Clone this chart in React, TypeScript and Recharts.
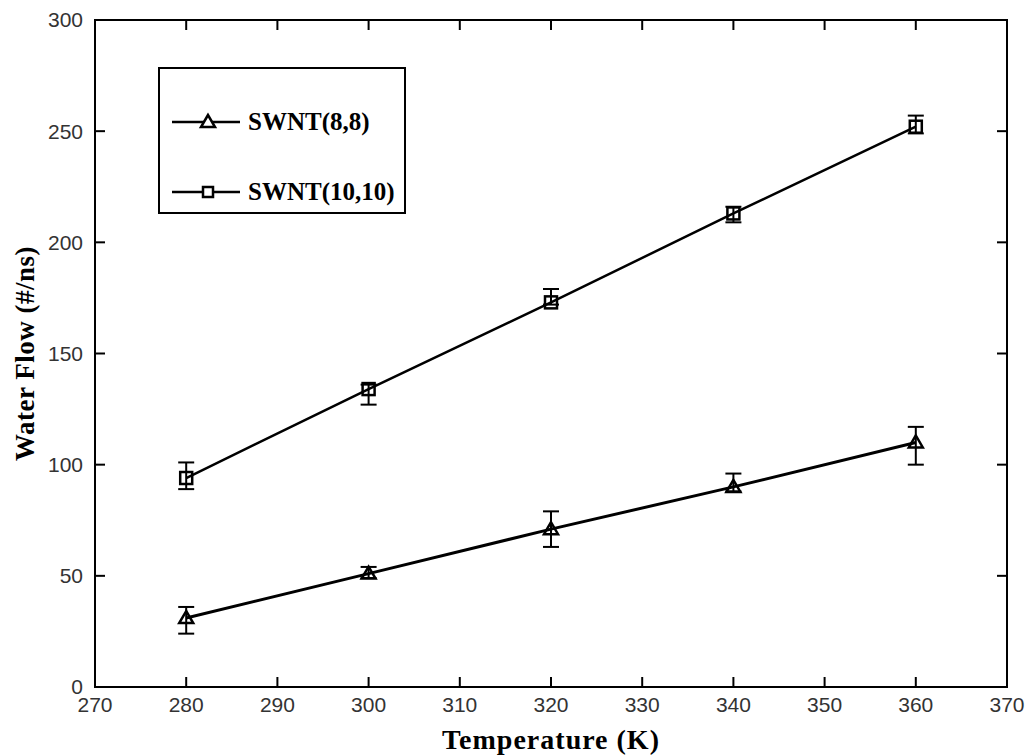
import { ErrorBar, Label, Legend, Line, LineChart, ReferenceArea, XAxis, YAxis } from "recharts";

const temperatures = [280, 300, 320, 340, 360];
const flowSwnt88 = [31, 51, 71, 90, 110];
const errSwnt88 = [[7, 5], [2, 3], [8, 8], [2, 6], [10, 7]];
const flowSwnt1010 = [94, 134, 173, 213, 252];
const errSwnt1010 = [[5, 7], [7, 2], [1, 6], [4, 3], [3, 5]];
const xTicks = [270, 280, 290, 300, 310, 320, 330, 340, 350, 360, 370];
const yTicks = [0, 50, 100, 150, 200, 250, 300];

const data = temperatures.map((t, i) => ({
  t,
  a: flowSwnt88[i],
  aErr: errSwnt88[i],
  b: flowSwnt1010[i],
  bErr: errSwnt1010[i]
}));

const serif = '"Liberation Serif", "DejaVu Serif", serif';
const sans = '"Liberation Sans Narrow", "Liberation Sans", Arial, sans-serif';
const tickStyle = { fill: "#333", fontSize: 21, fontFamily: sans };

function Triangle({ cx, cy }: { cx?: number; cy?: number }) {
  if (cx == null || cy == null) return null;
  return (
    <polygon
      points={`${cx},${cy - 7} ${cx - 7},${cy + 5} ${cx + 7},${cy + 5}`}
      fill="none"
      stroke="#000"
      strokeWidth={2.5}
    />
  );
}

function Square({ cx, cy }: { cx?: number; cy?: number }) {
  if (cx == null || cy == null) return null;
  return <rect x={cx - 6} y={cy - 6} width={12} height={12} fill="none" stroke="#000" strokeWidth={2.5} />;
}

function EmptyTick() {
  return <g />;
}

function LegendBox() {
  const row = (marker: "tri" | "sq", text: string) => (
    <div style={{ display: "flex", alignItems: "center", height: 40 }}>
      <svg width={80} height={24}>
        <line x1={12} x2={80} y1={12} y2={12} stroke="#000" strokeWidth={2.5} />
        {marker === "tri" ? (
          <polygon points="48,5 41,17 55,17" fill="white" stroke="#000" strokeWidth={2.5} />
        ) : (
          <rect x={43} y={7} width={10} height={10} fill="white" stroke="#000" strokeWidth={2.5} />
        )}
      </svg>
      <span style={{ fontFamily: serif, fontWeight: 700, fontSize: 25, marginLeft: 8, color: "#000" }}>{text}</span>
    </div>
  );
  return (
    <div
      style={{
        width: 244,
        height: 143,
        border: "2px solid #000",
        background: "#fff",
        display: "flex",
        flexDirection: "column",
        boxSizing: "content-box"
      }}
    >
      <div style={{ height: 33 }} />
      {row("tri", "SWNT(8,8)")}
      <div style={{ height: 30 }} />
      {row("sq", "SWNT(10,10)")}
    </div>
  );
}

export default function App() {
  return (
    <div style={{ position: "absolute", left: 0, top: 0, width: 1029, height: 755, background: "#fff" }}>
      <LineChart width={1029} height={755} data={data} margin={{ top: 19, right: 21, bottom: 0, left: 0 }}>
        <XAxis
          dataKey="t"
          type="number"
          domain={[270, 370]}
          ticks={xTicks}
          height={68}
          stroke="#000"
          strokeWidth={2}
          tickSize={-10}
          tickMargin={20}
          tick={tickStyle}
          interval={0}
        >
          <Label
            value="Temperature (K)"
            position="insideBottom"
            offset={6}
            style={{ fontFamily: serif, fontWeight: 700, fontSize: 28, letterSpacing: 1, fill: "#000" }}
          />
        </XAxis>
        <XAxis
          xAxisId="top"
          orientation="top"
          dataKey="t"
          type="number"
          domain={[270, 370]}
          ticks={xTicks}
          height={1}
          stroke="#000"
          strokeWidth={2}
          tickSize={-10}
          tick={EmptyTick}
          interval={0}
        />
        <YAxis
          type="number"
          domain={[0, 300]}
          ticks={yTicks}
          width={95}
          stroke="#000"
          strokeWidth={2}
          tickSize={-10}
          tickMargin={22}
          tick={tickStyle}
          interval={0}
        >
          <Label
            value="Water Flow (#/ns)"
            angle={-90}
            position="insideLeft"
            offset={24}
            style={{ fontFamily: serif, fontWeight: 700, fontSize: 27, letterSpacing: 0.5, fill: "#000", textAnchor: "middle" }}
          />
        </YAxis>
        <YAxis
          yAxisId="right"
          orientation="right"
          type="number"
          domain={[0, 300]}
          ticks={yTicks}
          width={1}
          stroke="#000"
          strokeWidth={2}
          tickSize={-10}
          tick={EmptyTick}
          interval={0}
        />
        <ReferenceArea x1={270} x2={370} y1={0} y2={300} fill="none" stroke="#000" strokeWidth={2} />
        <Legend
          layout="horizontal"
          verticalAlign="middle"
          align="center"
          wrapperStyle={{ left: 158, top: 67, width: 248, height: 147 }}
          content={() => <LegendBox />}
        />
        <Line
          xAxisId="top"
          yAxisId="right"
          dataKey="b"
          stroke="none"
          dot={false}
          activeDot={false}
          legendType="none"
          isAnimationActive={false}
        />
        <Line
          dataKey="a"
          stroke="#000"
          strokeWidth={3}
          dot={<Triangle />}
          activeDot={false}
          isAnimationActive={false}
        >
          <ErrorBar dataKey="aErr" direction="y" width={8} stroke="#000" strokeWidth={2} />
        </Line>
        <Line
          dataKey="b"
          stroke="#000"
          strokeWidth={2.5}
          dot={<Square />}
          activeDot={false}
          isAnimationActive={false}
        >
          <ErrorBar dataKey="bErr" direction="y" width={8} stroke="#000" strokeWidth={2} />
        </Line>
      </LineChart>
    </div>
  );
}
